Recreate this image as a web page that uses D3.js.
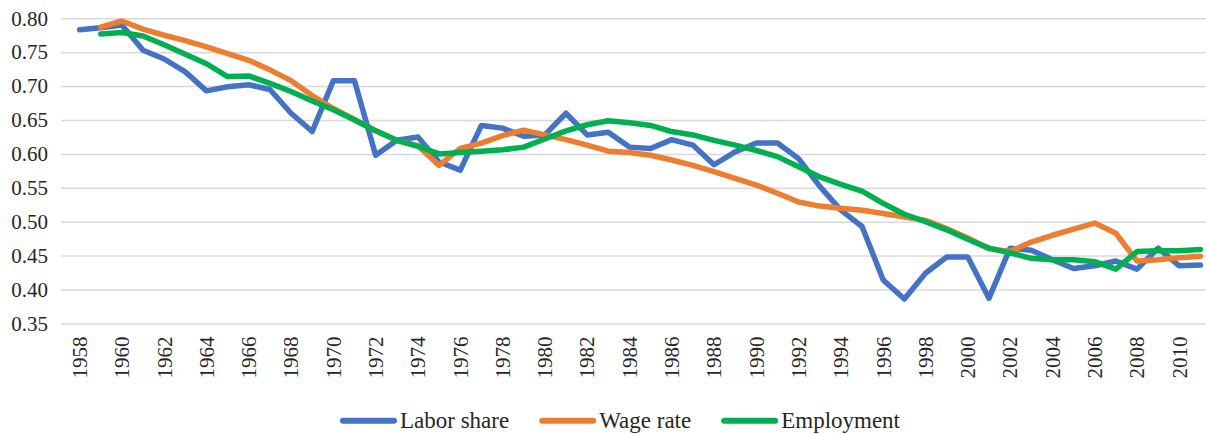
<!DOCTYPE html>
<html>
<head>
<meta charset="utf-8">
<script src="https://cdn.jsdelivr.net/npm/d3@7"></script>
<style>
  body { margin: 0; background: #fff; }
</style>
</head>
<body>
<div class="chartContainer"></div>
<script>
//categories: one per year
const years = [1958, 1959, 1960, 1961, 1962, 1963, 1964, 1965, 1966, 1967,
    1968, 1969, 1970, 1971, 1972, 1973, 1974, 1975, 1976, 1977,
    1978, 1979, 1980, 1981, 1982, 1983, 1984, 1985, 1986, 1987,
    1988, 1989, 1990, 1991, 1992, 1993, 1994, 1995, 1996, 1997,
    1998, 1999, 2000, 2001, 2002, 2003, 2004, 2005, 2006, 2007,
    2008, 2009, 2010, 2011];

//series values (null = no value for that year)
const laborShare = [0.783, 0.786, 0.790, 0.753, 0.740, 0.721, 0.693, 0.699, 0.702, 0.695,
    0.660, 0.633, 0.708, 0.708, 0.598, 0.620, 0.625, 0.588, 0.576, 0.642,
    0.638, 0.626, 0.628, 0.660, 0.628, 0.632, 0.610, 0.608, 0.621, 0.613,
    0.584, 0.603, 0.616, 0.616, 0.593, 0.552, 0.517, 0.493, 0.414, 0.386,
    0.424, 0.448, 0.448, 0.387, 0.461, 0.458, 0.444, 0.431, 0.435, 0.442,
    0.430, 0.461, 0.435, 0.436];

const wageRate = [null, 0.787, 0.796, 0.784, 0.775, 0.767, 0.758, 0.748, 0.738, 0.724,
    0.708, 0.686, 0.667, 0.651, 0.634, 0.620, 0.612, 0.583, 0.608, 0.616,
    0.627, 0.635, 0.628, 0.621, 0.613, 0.604, 0.602, 0.598, 0.591, 0.583,
    0.574, 0.564, 0.554, 0.542, 0.529, 0.523, 0.520, 0.517, 0.512, 0.507,
    0.502, 0.490, 0.476, 0.460, 0.456, 0.470, 0.480, 0.489, 0.498, 0.483,
    0.442, 0.444, 0.447, 0.449];

const employment = [null, 0.777, 0.779, 0.774, 0.761, 0.747, 0.733, 0.714, 0.715, 0.704,
    0.692, 0.678, 0.665, 0.650, 0.634, 0.620, 0.611, 0.600, 0.602, 0.604,
    0.606, 0.610, 0.622, 0.634, 0.643, 0.649, 0.646, 0.642, 0.633, 0.628,
    0.620, 0.613, 0.605, 0.596, 0.581, 0.566, 0.555, 0.545, 0.527, 0.511,
    0.500, 0.488, 0.474, 0.461, 0.454, 0.446, 0.444, 0.444, 0.441, 0.430,
    0.456, 0.457, 0.457, 0.459];

//y tick labels
const yTicks = [0.35, 0.40, 0.45, 0.50, 0.55, 0.60, 0.65, 0.70, 0.75, 0.80];

const seriesNames = ['Labor share', 'Wage rate', 'Employment'];
const seriesColors = ['#4472C4', '#ED7D31', '#00B050'];

function ready(){
    const width = 1206, height = 434;

    //plot area in page pixels
    const plot = {left: 69, right: 1211, top: 18.3, bottom: 323.4};

    const xScale = d3.scaleBand()
        .domain(years)
        .range([plot.left, plot.right]);

    const yScale = d3.scaleLinear()
        .domain([0.35, 0.80])
        .range([plot.bottom, plot.top]);

    const svg = d3.select('.chartContainer')
        .append('svg')
        .attr('width', width)
        .attr('height', height);

    //horizontal gridlines + y labels
    const yAxis = d3.axisLeft(yScale)
        .tickValues(yTicks)
        .tickFormat(d3.format('.2f'))
        .tickSizeInner(-(plot.right - plot.left))
        .tickSizeOuter(0);

    const yAxisDraw = svg.append('g')
        .attr('class', 'y axis')
        .attr('transform', `translate(${plot.left - 8}, 0)`)
        .call(yAxis)
        .attr('font-family', null)      //drop d3's sans-serif, use the page default
        .attr('font-size', null);
    yAxisDraw.select('.domain').remove();
    yAxisDraw.selectAll('.tick line')
        .attr('x1', 0)
        .attr('x2', plot.right - plot.left + 8)
        .attr('stroke', '#d9d9d9')
        .attr('stroke-width', 1.5);
    yAxisDraw.selectAll('.tick text')
        .attr('x', -13)
        .attr('fill', '#262626')
        .style('font-size', '21px');

    //x labels, every other year, rotated
    const xAxis = d3.axisBottom(xScale)
        .tickValues(years.filter((d, i) => i % 2 === 0))
        .tickSize(0);

    const xAxisDraw = svg.append('g')
        .attr('class', 'x axis')
        .attr('transform', `translate(0, ${plot.bottom})`)
        .call(xAxis)
        .attr('font-family', null)
        .attr('font-size', null);
    xAxisDraw.select('.domain').remove();
    xAxisDraw.selectAll('.tick text')
        .attr('transform', 'rotate(-90)')
        .attr('x', -13)
        .attr('y', 0)
        .attr('dy', '0.35em')
        .attr('text-anchor', 'end')
        .attr('fill', '#262626')
        .style('font-size', '21px');

    //lines
    const allSeries = [laborShare, wageRate, employment];
    const line = d3.line()
        .defined(d => d.v !== null)
        .x(d => xScale(d.year) + xScale.bandwidth() / 2)
        .y(d => yScale(d.v));

    svg.append('g')
        .attr('class', 'lines')
        .selectAll('path')
        .data(allSeries)
        .enter()
        .append('path')
        .attr('d', s => line(s.map((v, i) => ({year: years[i], v: v}))))
        .attr('fill', 'none')
        .attr('stroke', (d, i) => seriesColors[i])
        .attr('stroke-width', 5.5)
        .attr('stroke-linejoin', 'round')
        .attr('stroke-linecap', 'round');

    //legend
    const legend = svg.append('g').attr('class', 'legend');
    const swatch = 57, gap = 3, spacing = 30;
    let cx = 0;
    seriesNames.forEach((name, i) => {
        const item = legend.append('g').attr('transform', `translate(${cx}, 0)`);
        item.append('line')
            .attr('x1', 3).attr('x2', swatch - 3)
            .attr('y1', 0).attr('y2', 0)
            .attr('stroke', seriesColors[i])
            .attr('stroke-width', 6)
            .attr('stroke-linecap', 'round');
        const t = item.append('text')
            .attr('x', swatch + gap)
            .attr('y', 0)
            .attr('dy', '0.33em')
            .attr('fill', '#262626')
            .style('font-size', '23px')
            .text(name);
        cx += swatch + gap + t.node().getComputedTextLength() + spacing;
    });
    const legendWidth = cx - spacing;
    legend.attr('transform', `translate(${620 - legendWidth / 2}, 420.7)`);
}

ready();
</script>
</body>
</html>
